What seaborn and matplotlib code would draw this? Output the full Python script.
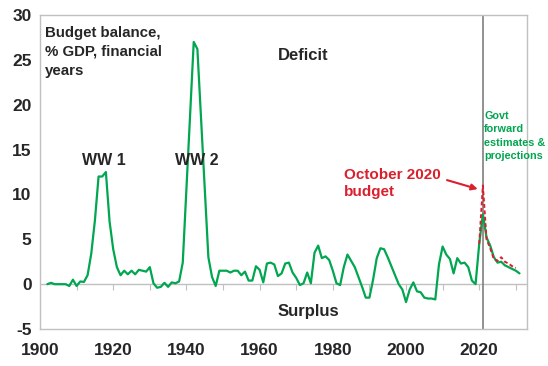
import matplotlib
matplotlib.use("Agg")
import matplotlib.pyplot as plt
import seaborn as sns
import pandas as pd

# Budget balance, % GDP (deficit positive), financial years
years = list(range(1902, 2032))
balance = [
    0.0, 0.15, 0.0, 0.0, 0.0, 0.0, -0.2, 0.5,
    -0.2, 0.3, 0.25, 1.0, 3.4, 7.1, 12.0, 12.0, 12.5, 7.0,
    3.9, 1.9, 1.0, 1.5, 1.1, 1.5, 1.1, 1.6, 1.5, 1.4,
    1.9, 0.1, -0.4, -0.3, 0.15, -0.3, 0.2, 0.1, 0.3, 2.4,
    10.5, 18.8, 27.0, 26.2, 18.5, 10.8, 3.0, 0.8, -0.2, 1.5,
    1.5, 1.5, 1.3, 1.5, 1.5, 1.0, 1.4, 0.4, 0.4, 2.0,
    1.6, 0.2, 2.3, 2.4, 2.2, 0.9, 1.2, 2.3, 2.4, 1.3,
    0.7, -0.1, 0.1, 1.3, 0.1, 3.5, 4.3, 2.9, 3.1, 2.7,
    1.5, 0.1, -0.1, 1.9, 3.3, 2.6, 1.9, 0.8, -0.3, -1.5,
    -1.5, 0.5, 2.9, 4.0, 3.9, 3.0, 2.0, 1.0, 0.0, -0.6,
    -2.0, -0.6, 0.2, -0.8, -0.9, -1.5, -1.6, -1.6, -1.7, 2.2,
    4.2, 3.3, 2.8, 1.2, 2.9, 2.3, 2.4, 1.9, 0.4, 0.0,
    4.5, 7.8, 5.2, 4.3, 3.0, 2.4, 2.5, 2.1, 1.9, 1.7, 1.5, 1.2,
]

# October 2020 budget
oct_years = list(range(2020, 2031))
oct_balance = [4.5, 11.0, 5.0, 4.0, 2.8, 2.6, 3.0, 2.5, 2.3, 2.0, 1.8]

x_ticks = list(range(1900, 2021, 20))
y_ticks = list(range(-5, 31, 5))

GREEN = "#00A650"
RED = "#D9202E"
GRID = "#C0C0C0"

sns.set_style("white")
plt.rcParams["font.family"] = ["Liberation Sans", "DejaVu Sans"]
plt.rcParams["axes.unicode_minus"] = False

df = pd.DataFrame({"year": years, "balance": balance})
df_oct = pd.DataFrame({"year": oct_years, "balance": oct_balance})

fig = plt.figure(figsize=(5.48, 3.66), dpi=100, facecolor="w")
ax = fig.add_axes([0.073, 0.101, 0.889, 0.858])

ax.axhline(0, color=GRID, lw=1.0, zorder=1)
ax.axvline(2021, color="#7F7F7F", lw=1.2, zorder=2)

sns.lineplot(data=df, x="year", y="balance", color=GREEN, lw=1.6, ax=ax, zorder=3)
sns.lineplot(
    data=df_oct, x="year", y="balance", color=RED, lw=1.4, ax=ax, zorder=4,
    dashes=False, linestyle=(0, (2, 1.3)),
)

ax.set_xlim(1900, 2033.1)
ax.set_ylim(-5, 30)
ax.set_xticks(x_ticks)
ax.set_yticks(y_ticks)
ax.set_xlabel("")
ax.set_ylabel("")

for s in ax.spines.values():
    s.set_color(GRID)
    s.set_linewidth(1.0)

ax.tick_params(axis="y", length=3, color=GRID, pad=3, labelsize=12.5)
ax.tick_params(axis="x", length=0, pad=10, labelsize=12.5)
for lab in ax.get_xticklabels() + ax.get_yticklabels():
    lab.set_fontweight("bold")

# decade tick marks hanging from the zero line
sec = ax.secondary_xaxis(5 / 35)
sec.set_xticks(list(range(1910, 2031, 10)))
sec.tick_params(axis="x", length=4, color=GRID, labelbottom=False, labelsize=1)
sec.spines["bottom"].set_visible(False)

ax.text(1901.4, 28.8, "Budget balance,\n% GDP, financial\nyears", fontsize=10.8,
        fontweight="bold", ha="left", va="top", linespacing=1.45)
ax.text(1917.5, 13.8, "WW 1", fontsize=11.5, fontweight="bold", ha="center", va="center")
ax.text(1942.9, 13.8, "WW 2", fontsize=11.5, fontweight="bold", ha="center", va="center")
ax.text(1965.1, 25.5, "Deficit", fontsize=12, fontweight="bold", ha="left", va="center")
ax.text(1964.8, -3.0, "Surplus", fontsize=12, fontweight="bold", ha="left", va="center")
ax.text(1983.1, 12.9, "October 2020\nbudget", fontsize=11, fontweight="bold",
        color=RED, ha="left", va="top", linespacing=1.2)
ax.text(2021.4, 19.3, "Govt\nforward\nestimates &\nprojections", fontsize=7.8,
        fontweight="bold", color=GREEN, ha="left", va="top", linespacing=1.42)

ax.annotate("", xy=(2019.6, 10.6), xytext=(2011.2, 11.6),
            arrowprops=dict(arrowstyle="-|>", color=RED, lw=1.5,
                            mutation_scale=9, shrinkA=0, shrinkB=0))

fig.savefig("out.png", dpi=100, facecolor="w")
plt.close()
